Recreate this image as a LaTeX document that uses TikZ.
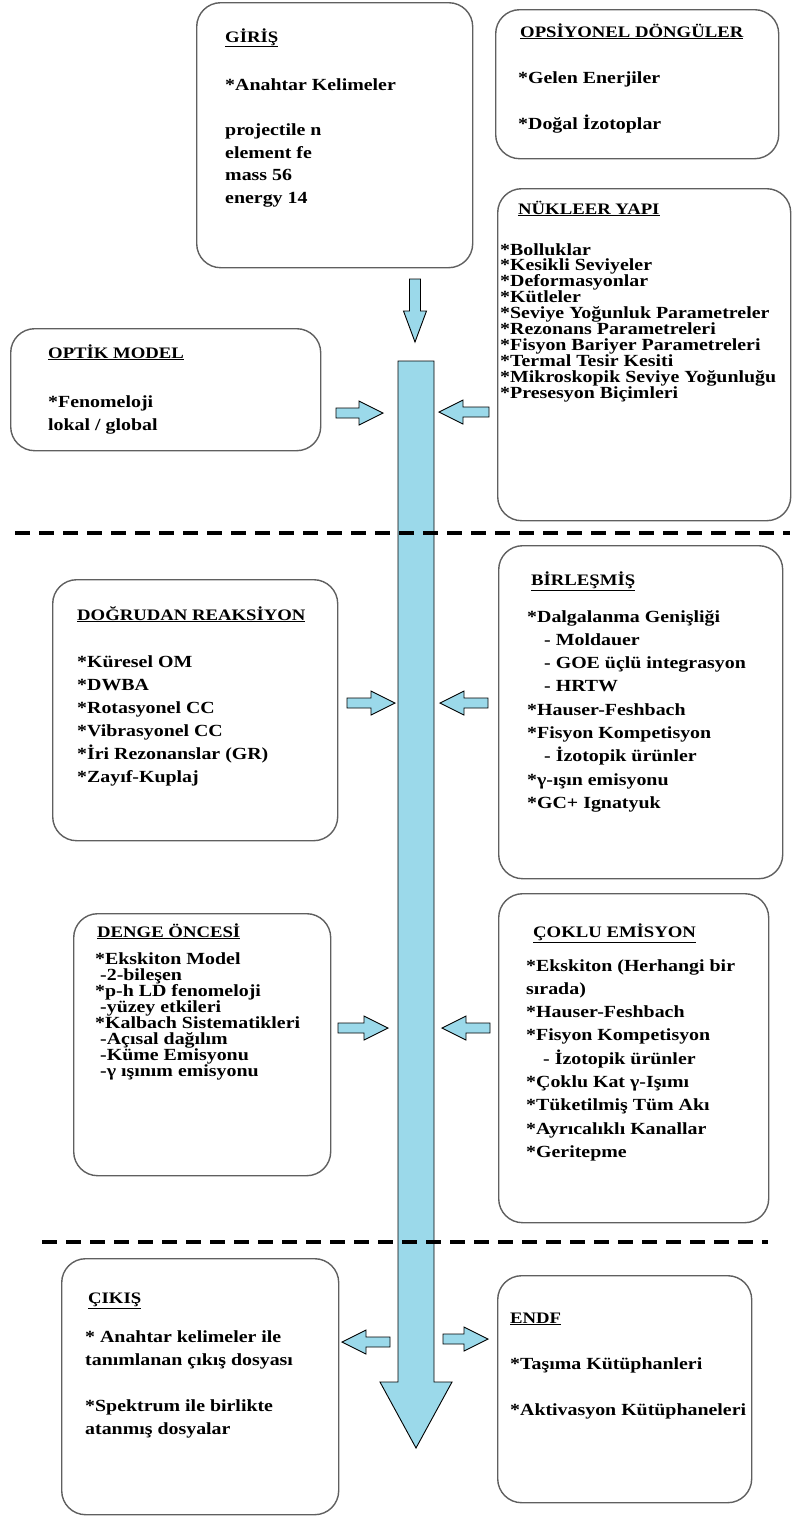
\documentclass[tikz,border=0pt]{standalone}
\usepackage{fontspec}
\setmainfont[FakeStretch=1.17]{Liberation Serif}
\usetikzlibrary{calc}
\definecolor{arrowblue}{RGB}{155,217,234}
\definecolor{boxgray}{RGB}{95,95,95}

% block arrow: tail, tip, half shaft width, half head width, head length
\newcommand{\blockarrow}[5]{%
  \coordinate (hb) at ($(#2)!#5!(#1)$);
  \filldraw[arrowbody] ($(#1)!#3!90:(#2)$) -- ($(hb)!#3!90:(#2)$) -- ($(hb)!#4!90:(#2)$)
    -- (#2) -- ($(hb)!#4!-90:(#2)$) -- ($(hb)!#3!-90:(#2)$) -- ($(#1)!#3!-90:(#2)$) -- cycle;}
% lines of a box, baseline on the first one
\newcommand{\lines}[1]{\parbox[t]{300pt}{\raggedright #1}}

\begin{document}
\begin{tikzpicture}[x=1pt, y=-1pt,
  box/.style = {shape=rectangle, draw=boxgray, line width=1.4pt, rounded corners=24pt, anchor=north west, inner sep=0pt},
  title/.style = {anchor=base west, inner sep=0pt, font=\bfseries\fontsize{16}{20}\selectfont},
  body/.style = {anchor=base west, inner sep=0pt, font=\bfseries\fontsize{17}{#1}\selectfont},
  body/.default = 23.3,
  arrowbody/.style = {fill=arrowblue, draw=black, line width=0.9pt, line join=miter},
  divider/.style = {line width=4pt, dash pattern=on 15pt off 9pt}]
\useasboundingbox (0,0) rectangle (795,1521);

% boxes
\node[box, minimum width=276, minimum height=265] (giris) at (196,2) {};
\node[box, minimum width=283, minimum height=149] (opsiyonel) at (495,9) {};
\node[box, minimum width=293, minimum height=332] (nukleer) at (497,188) {};
\node[box, minimum width=310, minimum height=122] (optik) at (10,328) {};
\node[box, minimum width=285, minimum height=261] (dogrudan) at (52,579) {};
\node[box, minimum width=284, minimum height=333] (birlesmis) at (498,545) {};
\node[box, minimum width=257, minimum height=262] (denge) at (73,913) {};
\node[box, minimum width=270, minimum height=329] (coklu) at (498,893) {};
\node[box, minimum width=277, minimum height=256] (cikis) at (61,1258) {};
\node[box, minimum width=254, minimum height=227] (endf) at (497,1275) {};

% texts
\node[title] (giris-t) at (225,42) {\underline{GİRİŞ}};
\node[body=22.7] (giris-b) at (225,90) {\lines{*Anahtar Kelimeler\\[22.7pt]projectile n\\element fe\\mass 56\\energy 14}};

\node[title] (opsiyonel-t) at (520,37) {\underline{OPSİYONEL DÖNGÜLER}};
\node[body] (opsiyonel-b) at (518,83) {\lines{*Gelen Enerjiler\\[23.3pt]{}*Doğal İzotoplar}};

\node[title] (nukleer-t) at (518,214) {\underline{NÜKLEER YAPI}};
\node[body=15.9] (nukleer-b) at (500,255) {\lines{*Bolluklar\\{}*Kesikli Seviyeler\\{}*Deformasyonlar\\{}*Kütleler\\{}*Seviye Yoğunluk Parametreler\\{}*Rezonans Parametreleri\\{}*Fisyon Bariyer Parametreleri\\{}*Termal Tesir Kesiti\\{}*Mikroskopik Seviye Yoğunluğu\\{}*Presesyon Biçimleri}};

\node[title] (optik-t) at (48,358) {\underline{OPTİK MODEL}};
\node[body=23] (optik-b) at (48,407) {\lines{*Fenomeloji\\lokal / global}};

\node[title] (dogrudan-t) at (77,620) {\underline{DOĞRUDAN REAKSİYON}};
\node[body=23.1] (dogrudan-b) at (77,667) {\lines{*Küresel OM\\{}*DWBA\\{}*Rotasyonel CC\\{}*Vibrasyonel CC\\{}*İri Rezonanslar (GR)\\{}*Zayıf-Kuplaj}};

\node[title] (birlesmis-t) at (531,585) {\underline{BİRLEŞMİŞ}};
\node[body] (birlesmis-b) at (527,622) {\lines{*Dalgalanma Genişliği\\\hspace*{17pt}- Moldauer\\\hspace*{17pt}- GOE üçlü integrasyon\\\hspace*{17pt}- HRTW\\{}*Hauser-Feshbach\\{}*Fisyon Kompetisyon\\\hspace*{17pt}- İzotopik ürünler\\{}*γ-ışın emisyonu\\{}*GC+ Ignatyuk}};

\node[title] (denge-t) at (97,937) {\underline{DENGE ÖNCESİ}};
\node[body=16] (denge-b) at (95,964) {\lines{*Ekskiton Model\\\hspace*{5pt}-2-bileşen\\{}*p-h LD fenomeloji\\\hspace*{5pt}-yüzey etkileri\\{}*Kalbach Sistematikleri\\\hspace*{5pt}-Açısal dağılım\\\hspace*{5pt}-Küme Emisyonu\\\hspace*{5pt}-γ ışınım emisyonu}};

\node[title] (coklu-t) at (533,937) {\underline{ÇOKLU EMİSYON}};
\node[body] (coklu-b) at (526,971) {\lines{*Ekskiton (Herhangi bir\\sırada)\\{}*Hauser-Feshbach\\{}*Fisyon Kompetisyon\\\hspace*{17pt}- İzotopik ürünler\\{}*Çoklu Kat γ-Işımı\\{}*Tüketilmiş Tüm Akı\\{}*Ayrıcalıklı Kanallar\\{}*Geritepme}};

\node[title] (cikis-t) at (88,1303) {\underline{ÇIKIŞ}};
\node[body=23.2] (cikis-b) at (85,1342) {\lines{* Anahtar kelimeler ile\\tanımlanan çıkış dosyası\\[23.2pt]{}*Spektrum ile birlikte\\atanmış dosyalar}};

\node[title] (endf-t) at (510,1323) {\underline{ENDF}};
\node[body=23] (endf-b) at (510,1369) {\lines{*Taşıma Kütüphanleri\\[23pt]{}*Aktivasyon Kütüphaneleri}};

% main flow
\coordinate (flowtop) at (416,361);
\coordinate (flowtip) at (416,1448);
\blockarrow{flowtop}{flowtip}{18pt}{36pt}{66pt}

% small arrows
\coordinate (in-a) at (415,279);   \coordinate (in-b) at (415,342);
\coordinate (opt-a) at (336,413);  \coordinate (opt-b) at (383,413);
\coordinate (nuk-a) at (489,412);  \coordinate (nuk-b) at (439,412);
\coordinate (dog-a) at (347,703);  \coordinate (dog-b) at (395,703);
\coordinate (bir-a) at (488,703);  \coordinate (bir-b) at (440,703);
\coordinate (den-a) at (338,1028); \coordinate (den-b) at (388,1028);
\coordinate (cok-a) at (490,1028); \coordinate (cok-b) at (442,1028);
\coordinate (cik-a) at (390,1342); \coordinate (cik-b) at (342,1342);
\coordinate (end-a) at (443,1339); \coordinate (end-b) at (488,1339);
\blockarrow{in-a}{in-b}{5.5pt}{11.5pt}{31pt}
\blockarrow{opt-a}{opt-b}{5pt}{12pt}{24pt}
\blockarrow{nuk-a}{nuk-b}{5pt}{12pt}{24pt}
\blockarrow{dog-a}{dog-b}{5pt}{12pt}{24pt}
\blockarrow{bir-a}{bir-b}{5pt}{12pt}{24pt}
\blockarrow{den-a}{den-b}{5pt}{12pt}{24pt}
\blockarrow{cok-a}{cok-b}{5pt}{12pt}{24pt}
\blockarrow{cik-a}{cik-b}{5pt}{12pt}{24pt}
\blockarrow{end-a}{end-b}{5pt}{12pt}{24pt}

% dividers
\draw[divider] (15,533) -- (790,533);
\draw[divider] (42,1242) -- (768,1242);
\end{tikzpicture}
\end{document}
